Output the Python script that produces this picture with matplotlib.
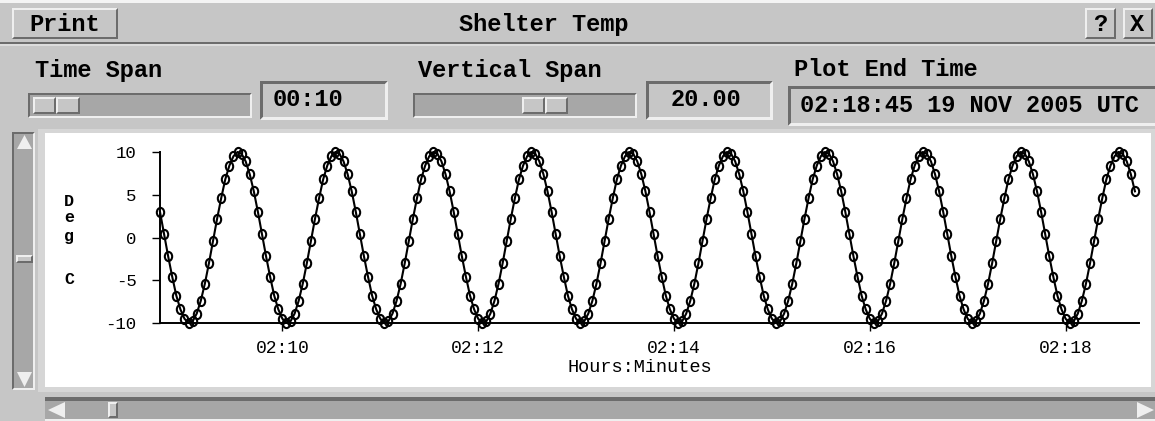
import datetime as dt
import matplotlib
matplotlib.use("Agg")
import matplotlib.pyplot as plt
import matplotlib.dates as mdates
from matplotlib.patches import Rectangle, Polygon
from matplotlib.path import Path
from matplotlib.transforms import Affine2D

# ---- window content -------------------------------------------------------
plot_title = "Shelter Temp"
time_span_label = "Time Span"
time_span_value = "00:10"
vert_span_label = "Vertical Span"
vert_span_value = "20.00"
end_time_label = "Plot End Time"
end_time_value = "02:18:45 19 NOV 2005 UTC"
y_label = "Deg C"
x_label = "Hours:Minutes"
y_ticks = [-10, -5, 0, 5, 10]
y_limits = (-10, 10)

start_time = dt.datetime(2005, 11, 19, 2, 8, 45)
end_time = dt.datetime(2005, 11, 19, 2, 18, 45)
sample_seconds = 2.5

# shelter temperature readings (deg C), one every 2.5 s
temps = [
    3.0, 0.4, -2.2, -4.6, -6.8, -8.4, -9.5, -10.0, -9.8, -8.9, -7.4, -5.4,
    -3.0, -0.4, 2.2, 4.6, 6.8, 8.4, 9.5, 10.0, 9.8, 8.9, 7.4, 5.4,
    3.0, 0.4, -2.2, -4.6, -6.8, -8.4, -9.5, -10.0, -9.8, -8.9, -7.4, -5.4,
    -3.0, -0.4, 2.2, 4.6, 6.8, 8.4, 9.5, 10.0, 9.8, 8.9, 7.4, 5.4,
    3.0, 0.4, -2.2, -4.6, -6.8, -8.4, -9.5, -10.0, -9.8, -8.9, -7.4, -5.4,
    -3.0, -0.4, 2.2, 4.6, 6.8, 8.4, 9.5, 10.0, 9.8, 8.9, 7.4, 5.4,
    3.0, 0.4, -2.2, -4.6, -6.8, -8.4, -9.5, -10.0, -9.8, -8.9, -7.4, -5.4,
    -3.0, -0.4, 2.2, 4.6, 6.8, 8.4, 9.5, 10.0, 9.8, 8.9, 7.4, 5.4,
    3.0, 0.4, -2.2, -4.6, -6.8, -8.4, -9.5, -10.0, -9.8, -8.9, -7.4, -5.4,
    -3.0, -0.4, 2.2, 4.6, 6.8, 8.4, 9.5, 10.0, 9.8, 8.9, 7.4, 5.4,
    3.0, 0.4, -2.2, -4.6, -6.8, -8.4, -9.5, -10.0, -9.8, -8.9, -7.4, -5.4,
    -3.0, -0.4, 2.2, 4.6, 6.8, 8.4, 9.5, 10.0, 9.8, 8.9, 7.4, 5.4,
    3.0, 0.4, -2.2, -4.6, -6.8, -8.4, -9.5, -10.0, -9.8, -8.9, -7.4, -5.4,
    -3.0, -0.4, 2.2, 4.6, 6.8, 8.4, 9.5, 10.0, 9.8, 8.9, 7.4, 5.4,
    3.0, 0.4, -2.2, -4.6, -6.8, -8.4, -9.5, -10.0, -9.8, -8.9, -7.4, -5.4,
    -3.0, -0.4, 2.2, 4.6, 6.8, 8.4, 9.5, 10.0, 9.8, 8.9, 7.4, 5.4,
    3.0, 0.4, -2.2, -4.6, -6.8, -8.4, -9.5, -10.0, -9.8, -8.9, -7.4, -5.4,
    -3.0, -0.4, 2.2, 4.6, 6.8, 8.4, 9.5, 10.0, 9.8, 8.9, 7.4, 5.4,
    3.0, 0.4, -2.2, -4.6, -6.8, -8.4, -9.5, -10.0, -9.8, -8.9, -7.4, -5.4,
    -3.0, -0.4, 2.2, 4.6, 6.8, 8.4, 9.5, 10.0, 9.8, 8.9, 7.4, 5.4,
]
times = [start_time + dt.timedelta(seconds=sample_seconds * i)
         for i in range(len(temps))]

# ---- figure ---------------------------------------------------------------
W, H = 1155, 421
plt.rcParams["axes.unicode_minus"] = False
MONO = "Liberation Mono"

BG = "#c6c6c6"
LIGHT = "#efefef"
DARK = "#6c6c6c"
TROUGH = "#a7a7a7"

fig = plt.figure(figsize=(W / 100, H / 100), dpi=100, facecolor=BG)

# pixel-space layer for the window widgets
ui = fig.add_axes([0, 0, 1, 1], zorder=0)
ui.set_xlim(0, W)
ui.set_ylim(H, 0)
ui.axis("off")


def rect(x0, y0, x1, y1, color):
    ui.add_patch(Rectangle((x0, y0), x1 - x0, y1 - y0, facecolor=color,
                           edgecolor="none"))


def bevel(x0, y0, x1, y1, face, raised=True, bw=2):
    tl, br = (LIGHT, DARK) if raised else (DARK, LIGHT)
    rect(x0, y0, x1, y1, face)
    ui.add_patch(Polygon([(x0, y0), (x1, y0), (x1 - bw, y0 + bw),
                          (x0 + bw, y0 + bw), (x0 + bw, y1 - bw), (x0, y1)],
                         closed=True, facecolor=tl, edgecolor="none"))
    ui.add_patch(Polygon([(x1, y0), (x1, y1), (x0, y1), (x0 + bw, y1 - bw),
                          (x1 - bw, y1 - bw), (x1 - bw, y0 + bw)],
                         closed=True, facecolor=br, edgecolor="none"))


def label(x, y, s, size=17, weight="bold", ha="left", va="baseline", **kw):
    ui.text(x, y, s, fontsize=size, family=MONO, fontweight=weight,
            ha=ha, va=va, color="black", **kw)


def tri(pts, color=LIGHT):
    ui.add_patch(Polygon(pts, closed=True, facecolor=color, edgecolor="none"))


# title bar
rect(0, 0, W, 3, "#f4f4f4")
bevel(12, 8, 118, 39, BG, raised=True)
label(65, 31, "Print", ha="center")
label(544, 31, plot_title, ha="center")
bevel(1085, 8, 1116, 39, BG, raised=True)
label(1100, 31, "?", ha="center")
bevel(1123, 8, 1153, 39, BG, raised=True)
label(1137, 31, "X", ha="center")
rect(0, 41.5, W, 44, DARK)
rect(0, 44, W, 45.5, "#dcdcdc")

# controls row
label(35, 77, time_span_label)
bevel(28, 93, 252, 118, TROUGH, raised=False)
bevel(33, 97, 56, 114, BG, raised=True)
bevel(56, 97, 80, 114, BG, raised=True)
bevel(260, 81, 388, 120, BG, raised=False, bw=3)
label(273, 106, time_span_value)

label(418, 77, vert_span_label)
bevel(413, 93, 637, 118, TROUGH, raised=False)
bevel(522, 97, 545, 114, BG, raised=True)
bevel(545, 97, 568, 114, BG, raised=True)
bevel(646, 81, 773, 120, BG, raised=False, bw=3)
label(671, 106, vert_span_value)

label(794, 76, end_time_label)
bevel(788, 86, W + 6, 126, BG, raised=False, bw=3)
label(800, 112.5, end_time_value)

# plot panel and scrollbars
rect(38, 129, W, 392, "#d6d6d6")
rect(45, 133, 1151, 387, "white")
bevel(12, 132, 35, 390, TROUGH, raised=False)
tri([(17, 149), (32, 149), (24.5, 135)])
tri([(17, 372), (32, 372), (24.5, 387)])
bevel(16, 255, 33, 263, BG, raised=True)
rect(45, 397, W, 401, DARK)
rect(45, 401, W, 419, TROUGH)
rect(45, 419, W, 421, LIGHT)
tri([(65, 402), (65, 418), (48, 410)])
tri([(1137, 402), (1137, 418), (1154, 410)])
bevel(108, 402, 118, 418, BG, raised=True)

# ---- data plot ------------------------------------------------------------
ax = fig.add_axes([160 / W, (H - 323) / H, 979 / W, 171 / H], zorder=1)
ax.set_facecolor("none")

ellipse = Path.unit_circle().transformed(Affine2D().scale(0.8, 1.0))
ax.plot(times, temps, color="black", lw=1.5, marker=ellipse, ms=6.6,
        mfc="none", mec="black", mew=1.5, clip_on=False)

ax.set_xlim(start_time, end_time)
ax.set_ylim(*y_limits)
ax.set_yticks(y_ticks)
ax.set_yticklabels([str(v) for v in y_ticks])
ax.xaxis.set_major_locator(mdates.MinuteLocator(byminute=range(0, 60, 2)))
ax.xaxis.set_major_formatter(mdates.DateFormatter("%H:%M"))

for side in ("top", "right"):
    ax.spines[side].set_visible(False)
for side in ("left", "bottom"):
    ax.spines[side].set_linewidth(1.4)
    ax.spines[side].set_color("black")

ax.tick_params(axis="both", direction="out", length=6, width=1,
               colors="black")
ax.tick_params(axis="y", pad=11)
ax.tick_params(axis="x", pad=6)
for t in ax.get_yticklabels():
    t.set_family(MONO)
    t.set_fontsize(12.5)
for t in ax.get_xticklabels():
    t.set_family(MONO)
    t.set_fontsize(13)

label(640, 372, x_label, size=13.4, weight="normal", ha="center")
for ch, yc in zip(y_label.replace(" ", ""), (201.5, 218, 236, 280)):
    label(69, yc, ch, size=12, weight="bold", ha="center", va="center")

fig.savefig("out.png", dpi=100, facecolor=BG)
